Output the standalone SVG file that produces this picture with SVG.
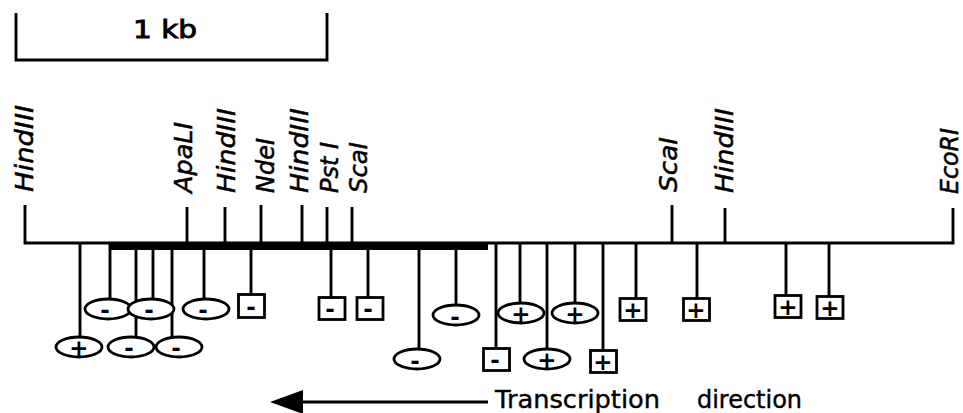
<svg xmlns="http://www.w3.org/2000/svg" width="963" height="413" viewBox="0 0 963 413">
<style>
.ln{stroke:#000;stroke-width:2.9;fill:none;stroke-linecap:butt}
.sh{stroke:#000;stroke-width:2.8;fill:#fff}
.lab{font-family:"DejaVu Sans",sans-serif;font-style:italic;font-size:25px;fill:#000;stroke:#000;stroke-width:0.5}
.sg{font-family:"DejaVu Sans",sans-serif;font-size:23px;font-weight:bold;fill:#000;text-anchor:middle}
.cap{font-family:"DejaVu Sans",sans-serif;font-size:24px;fill:#000;stroke:#000;stroke-width:0.4}
</style>
<rect width="963" height="413" fill="#fff"/>
<g id="scale">
<path class="ln" d="M16,13 V60 H327 V13"/>
<text class="cap" x="133" y="38" textLength="64" lengthAdjust="spacingAndGlyphs" font-size="22" style="stroke-width:0.9">1 kb</text>
</g>
<g id="connectors">
<path class="ln" d="M25,205 V243 H953 V208"/>
<rect x="109" y="242" width="379" height="8" fill="#000"/>
<path class="ln" d="M187,207V243 M225,207V243 M261,205V243 M302,205V243 M327,207V243 M352,207V243 M672,205V243 M725,208V243"/>
<path class="ln" d="M80,243V337 M110,243V299 M136,243V337 M153,243V299 M172,243V337 M204,243V299 M251,243V294 M331,243V297 M368,243V297 M419,243V349 M456,243V305 M496,243V348 M520,243V302 M547,243V348 M575,243V302 M603,243V350 M636,243V298 M697,243V298 M786,243V295 M829,243V296"/>
<line class="ln" x1="300" y1="402" x2="488" y2="402"/>
<polygon points="270,402 303,390 303,414" fill="#000"/>
</g>
<g id="sites">
<text class="lab" transform="translate(33,192) rotate(-90)" textLength="87" lengthAdjust="spacingAndGlyphs">HindIII</text>
<text class="lab" transform="translate(192,193) rotate(-90)" textLength="71" lengthAdjust="spacingAndGlyphs">ApaLI</text>
<text class="lab" transform="translate(235,193) rotate(-90)" textLength="85" lengthAdjust="spacingAndGlyphs">HindIII</text>
<text class="lab" transform="translate(274,193) rotate(-90)" textLength="55" lengthAdjust="spacingAndGlyphs">NdeI</text>
<text class="lab" transform="translate(308,193) rotate(-90)" textLength="85" lengthAdjust="spacingAndGlyphs">HindIII</text>
<text class="lab" transform="translate(338,193) rotate(-90)" textLength="51" lengthAdjust="spacingAndGlyphs">Pst I</text>
<text class="lab" transform="translate(367,193) rotate(-90)" textLength="51" lengthAdjust="spacingAndGlyphs">ScaI</text>
<text class="lab" transform="translate(677,192) rotate(-90)" textLength="55" lengthAdjust="spacingAndGlyphs">ScaI</text>
<text class="lab" transform="translate(733,193) rotate(-90)" textLength="85" lengthAdjust="spacingAndGlyphs">HindIII</text>
<text class="lab" transform="translate(958,194) rotate(-90)" textLength="66" lengthAdjust="spacingAndGlyphs">EcoRI</text>
</g>
<g id="n1"><ellipse class="sh" cx="79" cy="347" rx="23" ry="10"/><text class="sg" x="79" y="356">+</text></g>
<g id="n2"><ellipse class="sh" cx="108" cy="309" rx="23" ry="10"/><text class="sg" x="105" y="318">-</text></g>
<g id="n4"><ellipse class="sh" cx="151" cy="309" rx="23" ry="10"/><text class="sg" x="149" y="318">-</text></g>
<g id="n3"><ellipse class="sh" cx="131" cy="347" rx="23" ry="10"/><text class="sg" x="129" y="356">-</text></g>
<g id="n5"><ellipse class="sh" cx="179" cy="347" rx="23" ry="10"/><text class="sg" x="176" y="356">-</text></g>
<g id="n6"><ellipse class="sh" cx="206" cy="309" rx="23" ry="10"/><text class="sg" x="203" y="318">-</text></g>
<g id="n7"><rect class="sh" x="238.5" y="294.5" width="26" height="23"/><text class="sg" x="251" y="315">-</text></g>
<g id="n8"><rect class="sh" x="319" y="297.5" width="26" height="22"/><text class="sg" x="330" y="317">-</text></g>
<g id="n9"><rect class="sh" x="357" y="297.5" width="26" height="22"/><text class="sg" x="368" y="317">-</text></g>
<g id="n10"><ellipse class="sh" cx="417" cy="359" rx="23" ry="10"/><text class="sg" x="415" y="369">-</text></g>
<g id="n11"><ellipse class="sh" cx="456" cy="315" rx="23" ry="10"/><text class="sg" x="455" y="325">-</text></g>
<g id="n12"><rect class="sh" x="483.5" y="348.5" width="26" height="22"/><text class="sg" x="495" y="368">-</text></g>
<g id="n13"><ellipse class="sh" cx="521" cy="313" rx="23" ry="10"/><text class="sg" x="521" y="322">+</text></g>
<g id="n14"><ellipse class="sh" cx="547" cy="359" rx="23" ry="10"/><text class="sg" x="547" y="368">+</text></g>
<g id="n15"><ellipse class="sh" cx="575" cy="313" rx="23" ry="10"/><text class="sg" x="575" y="322">+</text></g>
<g id="n16"><rect class="sh" x="590.5" y="350.5" width="26" height="22"/><text class="sg" x="603" y="370">+</text></g>
<g id="n17"><rect class="sh" x="620" y="298.5" width="26" height="22"/><text class="sg" x="633" y="318">+</text></g>
<g id="n18"><rect class="sh" x="683.5" y="298.5" width="26" height="22"/><text class="sg" x="696" y="318">+</text></g>
<g id="n19"><rect class="sh" x="775" y="295.5" width="26" height="22"/><text class="sg" x="788" y="315">+</text></g>
<g id="n20"><rect class="sh" x="817" y="296.5" width="26" height="22"/><text class="sg" x="830" y="316">+</text></g>
<g id="legend">
<text class="cap" x="495" y="408" textLength="165" lengthAdjust="spacingAndGlyphs">Transcription</text>
<text class="cap" x="697" y="408" textLength="105" lengthAdjust="spacingAndGlyphs">direction</text>
</g>
</svg>
